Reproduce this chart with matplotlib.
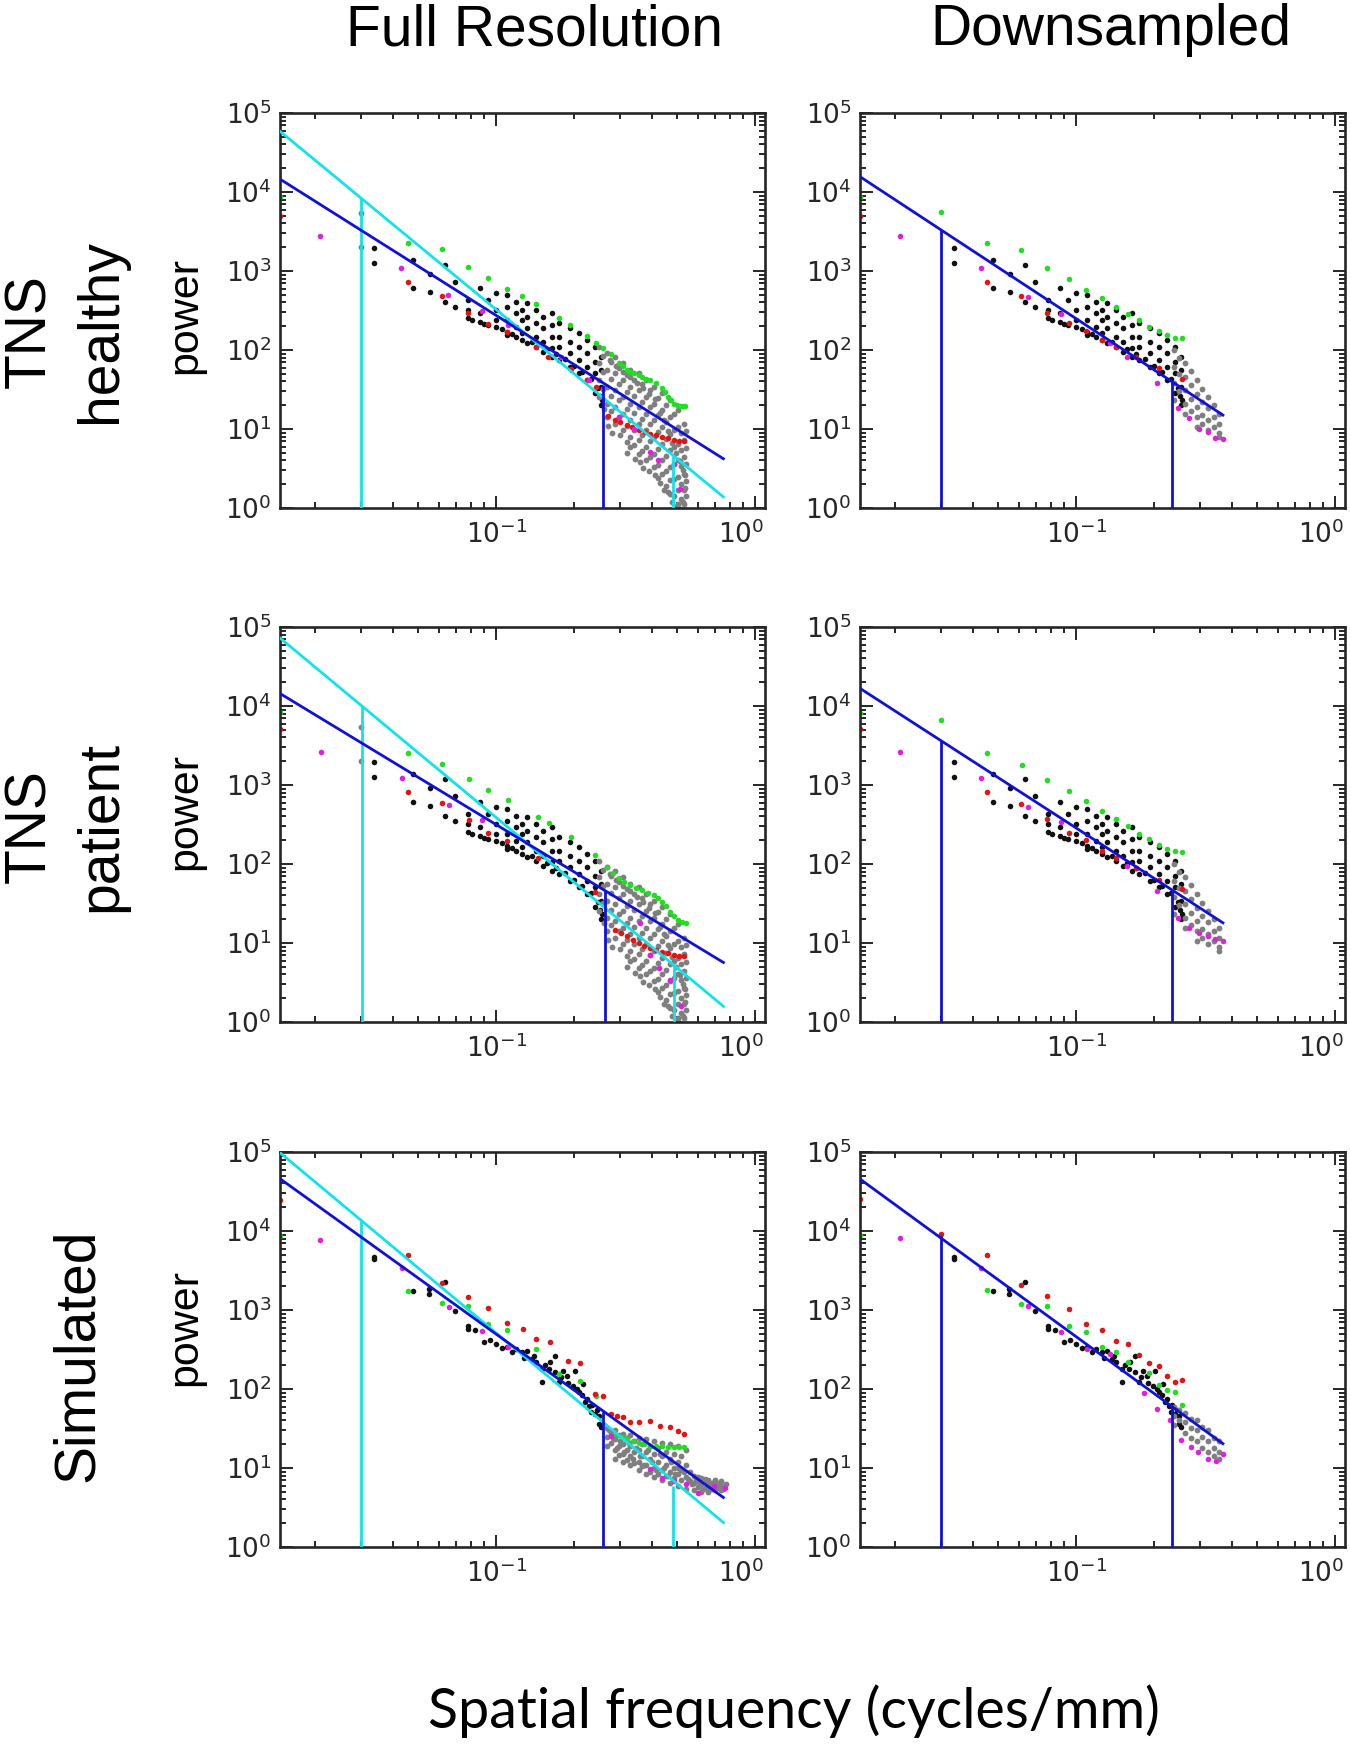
import numpy as np
import matplotlib
matplotlib.use('Agg')
import matplotlib.pyplot as plt
from matplotlib.ticker import LogLocator, FixedLocator, NullFormatter
from matplotlib.transforms import ScaledTranslation

# ---------------- data (frequency in cycles/mm, power) ----------------
# black points shared by TNS panels (low / mid frequencies)
tns_black = [(0.0336, 1941), (0.0336, 1277), (0.0478, 1380), (0.0478, 604),
             (0.0556, 910), (0.0556, 548), (0.0634, 1194), (0.0634, 409),
             (0.0692, 734), (0.0692, 354), (0.0777, 430), (0.0777, 321), (0.0777, 252),
             (0.0869, 604), (0.0869, 291), (0.0869, 228), (0.0932, 430), (0.0932, 207),
             (0.100, 522), (0.100, 321), (0.100, 240), (0.100, 197),
             (0.110, 498), (0.110, 354), (0.110, 240), (0.110, 171), (0.110, 155),
             (0.119, 409), (0.119, 291), (0.119, 197), (0.119, 147),
             (0.126, 321), (0.126, 240), (0.126, 163), (0.126, 134),
             (0.132, 390), (0.132, 264), (0.132, 188), (0.132, 121),
             (0.143, 321), (0.143, 217), (0.143, 147), (0.143, 110),
             (0.152, 264), (0.152, 188), (0.152, 127), (0.152, 95),
             (0.164, 291), (0.164, 207), (0.164, 147), (0.164, 105), (0.164, 82),
             (0.175, 217), (0.175, 147), (0.175, 110), (0.175, 74.5),
             (0.193, 188), (0.193, 127), (0.193, 90.6), (0.193, 61.4),
             (0.209, 163), (0.209, 110), (0.209, 74.5), (0.209, 50.5),
             (0.224, 134), (0.224, 90.6), (0.224, 61.4), (0.224, 41.6),
             (0.241, 110), (0.241, 71), (0.241, 50.5), (0.241, 28.2),
             (0.254, 82), (0.254, 55.7), (0.254, 34.2), (0.254, 20.0),
             (0.081, 240), (0.090, 215), (0.105, 185), (0.115, 160), (0.137, 128),
             (0.157, 104), (0.170, 90), (0.185, 76), (0.200, 63), (0.215, 52),
             (0.232, 43), (0.247, 33), (0.251, 26), (0.257, 23)]

tns_full_gray = [(0.0300, 5400), (0.0300, 2040),
                 (0.2495, 110), (0.2495, 67.6), (0.2495, 41.6), (0.2495, 25.5),
                 (0.267, 90.6), (0.267, 55.7), (0.267, 34.2), (0.267, 21.0), (0.267, 14.3),
                 (0.287, 82), (0.287, 50.5), (0.287, 31), (0.287, 19.1), (0.287, 11.7),
                 (0.308, 67.6), (0.308, 41.6), (0.308, 25.5), (0.308, 15.7), (0.308, 9.66),
                 (0.330, 55.7), (0.330, 34.2), (0.330, 21.0), (0.330, 12.9), (0.330, 7.95), (0.330, 5.93),
                 (0.355, 50.5), (0.355, 31), (0.355, 19.1), (0.355, 11.7), (0.355, 7.21), (0.355, 4.89),
                 (0.380, 41.6), (0.380, 25.5), (0.380, 15.7), (0.380, 9.66), (0.380, 5.93), (0.380, 4.02),
                 (0.408, 34.2), (0.408, 21.0), (0.408, 12.9), (0.408, 7.95), (0.408, 4.89), (0.408, 3.31),
                 (0.438, 28.2), (0.438, 17.3), (0.438, 10.6), (0.438, 6.54), (0.438, 4.02), (0.438, 2.72),
                 (0.470, 23.2), (0.470, 14.3), (0.470, 8.77), (0.470, 5.38), (0.470, 3.31), (0.470, 2.24), (0.470, 1.52),
                 (0.504, 17.3), (0.504, 10.6), (0.504, 6.54), (0.504, 4.02), (0.504, 2.47), (0.504, 1.67), (0.504, 1.13),
                 (0.531, 11.7), (0.531, 7.21), (0.531, 4.43), (0.531, 2.72), (0.531, 1.67), (0.531, 1.13), (0.531, 0.89),
                 (0.258, 85), (0.258, 52), (0.258, 32), (0.277, 70), (0.277, 43), (0.277, 26), (0.277, 17),
                 (0.297, 60), (0.297, 37), (0.297, 23), (0.297, 14),
                 (0.319, 48), (0.319, 29), (0.319, 18), (0.319, 11), (0.319, 6.8),
                 (0.342, 42), (0.342, 26), (0.342, 16), (0.342, 9.8), (0.342, 6.2),
                 (0.367, 37), (0.367, 22), (0.367, 13.5), (0.367, 8.3), (0.367, 5.2),
                 (0.394, 31), (0.394, 19), (0.394, 11.5), (0.394, 7.0), (0.394, 4.4),
                 (0.423, 25), (0.423, 15), (0.423, 9.2), (0.423, 5.6), (0.423, 3.5), (0.423, 2.4),
                 (0.453, 20), (0.453, 12.2), (0.453, 7.5), (0.453, 4.6), (0.453, 2.9), (0.453, 1.9),
                 (0.486, 15.5), (0.486, 9.6), (0.486, 5.9), (0.486, 3.6), (0.486, 2.3), (0.486, 1.4),
                 (0.518, 9), (0.518, 5.5), (0.518, 3.4), (0.518, 2.0), (0.518, 1.3),
                 (0.540, 9.5), (0.540, 5.8), (0.540, 3.6), (0.540, 2.2), (0.540, 1.4), (0.540, 0.95),
                 (0.260, 18), (0.270, 11), (0.280, 9), (0.300, 8.5), (0.320, 5.0), (0.345, 4.2),
                 (0.360, 3.8), (0.370, 3.2), (0.390, 2.9), (0.410, 2.6), (0.430, 2.1), (0.445, 1.7),
                 (0.460, 1.6), (0.480, 1.2), (0.500, 1.05), (0.515, 0.98), (0.525, 1.2), (0.535, 1.8),
                 (0.535, 2.6), (0.525, 3.0), (0.512, 3.9), (0.495, 5.0), (0.478, 6.6), (0.460, 9.5),
                 (0.445, 13), (0.430, 16), (0.410, 24), (0.390, 28), (0.370, 33), (0.350, 38),
                 (0.330, 45), (0.310, 52), (0.290, 62), (0.275, 75)]

tns_down_gray = [(0.239, 100), (0.239, 61), (0.239, 38), (0.239, 23),
                 (0.264, 68), (0.264, 46), (0.264, 31), (0.264, 21), (0.264, 15.7),
                 (0.292, 42), (0.292, 28), (0.292, 19), (0.292, 14.3), (0.292, 10.6),
                 (0.323, 25.5), (0.323, 18.2), (0.323, 12.9), (0.323, 9.7),
                 (0.356, 15.7), (0.356, 11.7), (0.356, 8.8), (0.356, 8.0),
                 (0.250, 80), (0.250, 50), (0.250, 30), (0.278, 55), (0.278, 36), (0.278, 24), (0.278, 17),
                 (0.307, 32), (0.307, 22), (0.307, 15), (0.307, 11.5), (0.340, 20), (0.340, 14), (0.340, 10.5)]

# TNS healthy, full resolution
hf_green = [(0.01462, 8600), (0.0458, 2290), (0.0618, 1890), (0.0777, 1140), (0.0932, 809),
            (0.110, 593), (0.1256, 483), (0.143, 382), (0.175, 256), (0.193, 207), (0.224, 150),
            (0.243, 124), (0.258, 107), (0.277, 88.7), (0.297, 69), (0.308, 62), (0.319, 55.7),
            (0.330, 52.5), (0.342, 50.5), (0.355, 48), (0.367, 45.8), (0.380, 43.5), (0.394, 41.6),
            (0.415, 37.7), (0.4375, 32.6), (0.449, 29), (0.461, 25.5), (0.473, 23), (0.486, 21),
            (0.500, 20), (0.513, 19.5), (0.525, 19.3), (0.537, 19.5)]
hf_red = [(0.01462, 4990), (0.0458, 720), (0.0618, 483), (0.0777, 291), (0.0932, 211), (0.110, 171),
          (0.143, 110), (0.158, 82), (0.195, 58), (0.224, 41.6), (0.243, 34), (0.270, 14.5),
          (0.287, 12.9), (0.300, 12.2), (0.319, 11.2), (0.335, 10.5), (0.355, 9.66), (0.375, 9.2),
          (0.394, 8.77), (0.415, 8.4), (0.4375, 7.95), (0.460, 7.6), (0.486, 7.2), (0.510, 7.1), (0.531, 7.08)]
hf_magenta = [(0.0209, 2790), (0.0430, 1084), (0.0652, 498), (0.0885, 312), (0.111, 207),
              (0.1787, 82.3), (0.2286, 41.6), (0.297, 14.3), (0.342, 10.1), (0.394, 5.13),
              (0.423, 4.02), (0.486, 3.65), (0.513, 1.76)]
hf_cyan_fit = [(0.01462, 58700), (0.755, 1.38)]
hf_blue_fit = [(0.01462, 14560), (0.755, 4.2)]
hf_cyan_cut = [(0.0300, 8360), (0.481, 4.52)]
hf_blue_cut = [(0.258, 35.9)]

# TNS healthy, downsampled
hd_green = [(0.01459, 8600), (0.030, 5660), (0.0452, 2250), (0.0611, 1850), (0.0773, 1084),
            (0.0935, 785), (0.1094, 575), (0.1255, 460), (0.142, 354), (0.159, 283), (0.1755, 240),
            (0.192, 197), (0.209, 175), (0.225, 155), (0.241, 143), (0.2575, 143)]
hd_red = [(0.01459, 4990), (0.0452, 720), (0.0611, 483), (0.0773, 291), (0.0935, 217), (0.1094, 175),
          (0.1255, 134), (0.142, 110), (0.171, 82), (0.209, 58.5), (0.2575, 42.4)]
hd_magenta = [(0.0209, 2790), (0.0429, 1084), (0.0652, 473), (0.0875, 286), (0.135, 121), (0.157, 82),
              (0.205, 37.8), (0.247, 18.2), (0.273, 13.6), (0.297, 10.1), (0.323, 9.2), (0.345, 7.8),
              (0.369, 7.43)]
hd_blue_fit = [(0.01459, 15700), (0.369, 15.0)]
hd_blue_cut = [(0.030, 3320), (0.235, 39.6)]

# TNS patient, full resolution
pf_green = [(0.01462, 8430), (0.0458, 2505), (0.0618, 1840), (0.0783, 1178), (0.0932, 863), (0.111, 645),
            (0.1445, 397), (0.1607, 327), (0.195, 222), (0.241, 130), (0.267, 92.7), (0.282, 78),
            (0.297, 66), (0.313, 59), (0.330, 54.4), (0.348, 50), (0.367, 47), (0.387, 43.5),
            (0.408, 40.6), (0.423, 37), (0.438, 33.5), (0.453, 29), (0.470, 25), (0.487, 22),
            (0.504, 19.6), (0.522, 18.5), (0.541, 17.8)]
pf_red = [(0.01462, 5050), (0.0458, 806), (0.0618, 585), (0.0783, 361), (0.0932, 250), (0.110, 198),
          (0.145, 120), (0.241, 44.8), (0.287, 14.7), (0.303, 13.3), (0.319, 12.1), (0.337, 11),
          (0.355, 9.96), (0.374, 9.2), (0.394, 8.6), (0.415, 8.2), (0.438, 7.8), (0.460, 7.4),
          (0.486, 7.1), (0.510, 6.9), (0.531, 6.76)]
pf_magenta = [(0.0211, 2580), (0.0433, 1210), (0.0656, 557), (0.0885, 361), (0.360, 17.8),
              (0.394, 7.1), (0.425, 4.81), (0.470, 3.43), (0.520, 1.58)]
pf_cyan_fit = [(0.01462, 72600), (0.755, 1.58)]
pf_blue_fit = [(0.01462, 14400), (0.755, 5.67)]
pf_cyan_cut = [(0.0302, 10230), (0.486, 5.05)]
pf_blue_cut = [(0.263, 47)]

# TNS patient, downsampled
pd_green = [(0.01459, 8180), (0.030, 6730), (0.0452, 2520), (0.0616, 1790), (0.0773, 1157),
            (0.0935, 830), (0.1094, 620), (0.1255, 471), (0.142, 370), (0.159, 299), (0.1755, 238),
            (0.192, 206), (0.209, 175), (0.225, 154), (0.241, 144), (0.2575, 140)]
pd_red = [(0.01459, 5130), (0.0452, 805), (0.0611, 573), (0.0773, 370), (0.0935, 250), (0.1094, 200),
          (0.1255, 147), (0.142, 120), (0.171, 90), (0.209, 63), (0.2575, 48.8)]
pd_magenta = [(0.0209, 2640), (0.0429, 1213), (0.0652, 520), (0.0875, 345), (0.157, 95), (0.205, 45),
              (0.247, 20.9), (0.273, 15.6), (0.297, 13.5), (0.323, 12.2), (0.345, 11.3), (0.369, 10.6)]
pd_blue_fit = [(0.01459, 16800), (0.369, 18.0)]
pd_blue_cut = [(0.030, 3650), (0.235, 45.5)]

# Simulated
sim_black = [(0.0336, 4750), (0.0336, 4450), (0.0478, 1730), (0.055, 1850), (0.055, 1600),
             (0.0634, 2250), (0.0692, 982), (0.0777, 622), (0.0777, 575), (0.083, 560), (0.090, 390),
             (0.095, 420), (0.100, 372), (0.105, 330), (0.110, 337), (0.115, 290), (0.119, 321),
             (0.1256, 291), (0.128, 250), (0.132, 305), (0.137, 239), (0.140, 260), (0.143, 217),
             (0.150, 179), (0.150, 121), (0.155, 200), (0.160, 180), (0.161, 217), (0.169, 162),
             (0.169, 264), (0.175, 121), (0.178, 140), (0.182, 170), (0.188, 147), (0.190, 120),
             (0.198, 110), (0.202, 168), (0.205, 100), (0.209, 90.4), (0.215, 85), (0.217, 115),
             (0.221, 67.5), (0.225, 75), (0.228, 61), (0.232, 50.5), (0.235, 62), (0.241, 48),
             (0.245, 55), (0.2495, 35.9), (0.250, 45), (0.254, 32.6)]
sim_full_gray = [(0.267, 32), (0.267, 25), (0.267, 19), (0.287, 30), (0.287, 23), (0.287, 17), (0.287, 13),
                 (0.308, 27), (0.308, 20), (0.308, 15), (0.308, 12), (0.330, 26), (0.330, 19), (0.330, 14), (0.330, 11),
                 (0.355, 24), (0.355, 17), (0.355, 12), (0.355, 9.5), (0.380, 23), (0.380, 16), (0.380, 11), (0.380, 8.5),
                 (0.408, 22), (0.408, 15), (0.408, 10), (0.408, 7.8), (0.438, 21), (0.438, 14), (0.438, 9.5), (0.438, 7),
                 (0.470, 20), (0.470, 13), (0.470, 9), (0.470, 6.5), (0.504, 19), (0.504, 12), (0.504, 8.5), (0.504, 6),
                 (0.541, 17), (0.541, 11), (0.541, 7.8), (0.541, 5.5), (0.58, 8), (0.58, 6.5), (0.58, 5.2),
                 (0.62, 7.5), (0.62, 6.2), (0.62, 5), (0.66, 7), (0.66, 6), (0.66, 5), (0.70, 7), (0.70, 6), (0.70, 5.2),
                 (0.74, 6.8), (0.74, 5.8), (0.74, 5.3), (0.277, 28), (0.277, 21), (0.297, 26), (0.297, 19), (0.297, 14.5),
                 (0.319, 24), (0.319, 17), (0.319, 12.5), (0.342, 22), (0.342, 16), (0.342, 11.5), (0.367, 20),
                 (0.367, 14), (0.367, 10.5), (0.394, 19), (0.394, 13), (0.394, 9), (0.423, 18), (0.423, 12), (0.423, 8.5),
                 (0.453, 16), (0.453, 11), (0.453, 8), (0.486, 15), (0.486, 10), (0.486, 7.5), (0.52, 14), (0.52, 9.5),
                 (0.52, 7), (0.56, 9), (0.56, 6.8), (0.60, 7.8), (0.60, 5.8), (0.64, 7.2), (0.64, 5.6), (0.68, 6.5),
                 (0.68, 5.5), (0.72, 6.3), (0.76, 6.0),
                 (0.272, 30), (0.282, 24), (0.292, 18), (0.302, 22), (0.313, 16), (0.325, 21), (0.337, 13),
                 (0.348, 18), (0.360, 14), (0.372, 11), (0.385, 17), (0.400, 12), (0.415, 9.5), (0.430, 15),
                 (0.445, 10), (0.460, 8), (0.475, 12), (0.490, 8.5), (0.505, 10), (0.530, 9), (0.550, 7.2),
                 (0.570, 6.2), (0.590, 7), (0.610, 6.6), (0.630, 5.4), (0.650, 6.4), (0.670, 5.8), (0.690, 6.2),
                 (0.710, 5.6), (0.730, 6.5), (0.750, 5.5), (0.770, 6.2)]
sim_down_gray = [(0.239, 60), (0.239, 45), (0.239, 35), (0.250, 55), (0.250, 40), (0.264, 50), (0.264, 38),
                 (0.264, 28), (0.278, 42), (0.278, 32), (0.278, 24), (0.292, 40), (0.292, 30), (0.292, 22),
                 (0.307, 33), (0.307, 25), (0.307, 18), (0.323, 30), (0.323, 22), (0.323, 16), (0.340, 24),
                 (0.340, 18), (0.340, 14), (0.356, 22), (0.356, 16), (0.356, 13)]

sf_green = [(0.01462, 8530), (0.0458, 1763), (0.0618, 1216), (0.0777, 1138), (0.0932, 666), (0.110, 559),
            (0.143, 321), (0.175, 155), (0.211, 127), (0.243, 82), (0.287, 26.9), (0.305, 25), (0.319, 23.2),
            (0.337, 22), (0.355, 21), (0.374, 20), (0.394, 19.1), (0.415, 19), (0.438, 19.1), (0.460, 18.5),
            (0.486, 18.2), (0.510, 18.2), (0.531, 18.2)]
sf_red = [(0.01462, 24400), (0.0458, 4990), (0.0618, 2180), (0.0777, 1480), (0.0932, 1052), (0.110, 686),
          (0.127, 575), (0.143, 430), (0.161, 390), (0.190, 228), (0.211, 211), (0.241, 86), (0.258, 82),
          (0.277, 48), (0.292, 45), (0.308, 43.6), (0.330, 37.7), (0.355, 37.7), (0.394, 39.6),
          (0.431, 34.2), (0.470, 32.6), (0.504, 29.6), (0.531, 26.9)]
sf_magenta = [(0.0209, 7730), (0.0433, 3410), (0.0656, 1104), (0.0885, 548), (0.111, 344), (0.277, 25.5),
              (0.394, 9.66), (0.438, 7.57), (0.486, 6.87), (0.541, 6.24), (0.601, 4.89), (0.692, 5.93),
              (0.767, 5.65)]
sf_cyan_fit = [(0.01462, 98000), (0.755, 2.04)]
sf_blue_fit = [(0.01462, 45900), (0.755, 4.23)]
sf_cyan_cut = [(0.030, 14300), (0.481, 5.93)]
sf_blue_cut = [(0.2597, 50.5)]

sd_green = [(0.01459, 8850), (0.0452, 1780), (0.0611, 1208), (0.0773, 1138), (0.0935, 633), (0.1094, 520),
            (0.1255, 345), (0.142, 298), (0.159, 222), (0.192, 158), (0.209, 112), (0.225, 96.9),
            (0.241, 92), (0.2575, 62.5)]
sd_red = [(0.01459, 25500), (0.030, 9120), (0.0452, 4980), (0.0611, 2100), (0.0773, 1495), (0.0935, 1032),
          (0.1094, 671), (0.1255, 552), (0.142, 400), (0.159, 370), (0.1755, 270), (0.192, 216),
          (0.209, 198), (0.225, 146), (0.241, 124), (0.2575, 130)]
sd_magenta = [(0.0209, 8040), (0.0429, 3440), (0.0652, 1117), (0.0875, 520), (0.110, 319), (0.135, 279),
              (0.183, 88), (0.205, 56.6), (0.231, 40.2), (0.2545, 22.4), (0.277, 18.4), (0.296, 15.9),
              (0.323, 13.1), (0.347, 12.4), (0.369, 15.1)]
sd_blue_fit = [(0.01459, 45700), (0.369, 20.3)]
sd_blue_cut = [(0.030, 8690), (0.235, 59.4)]

col_titles = ['Full Resolution', 'Downsampled']
row_titles = [['TNS', 'healthy'], ['TNS', 'patient'], ['Simulated']]
x_label = 'Spatial frequency (cycles/mm)'
y_label = 'power'

# ---------------- styling ----------------
ink = '#262626'
c_black = '#111111'
c_gray = '#7f7f7f'
c_green = '#22dd22'
c_red = '#e01515'
c_magenta = '#e020e0'
c_blue = '#1010dd'
c_cyan = '#12e2ea'

plt.rcParams['font.family'] = 'DejaVu Sans'
plt.rcParams['mathtext.fontset'] = 'dejavusans'

fig = plt.figure(figsize=(13.5, 17.45), dpi=100)
fig.patch.set_facecolor('white')

W, H = 1350.0, 1745.0
col_left = [280 / W, 860 / W]
ax_w = 485 / W
row_top = [113, 627, 1152]
ax_h = 395 / H


def plot_pts(ax, pts, color, ms):
    xs = [p[0] for p in pts]
    ys = [p[1] for p in pts]
    ax.plot(xs, ys, 'o', color=color, ms=ms, mew=0, ls='none', zorder=2)


def draw_panel(ax, black, gray, green, red, magenta, blue_fit, blue_cut, cyan_fit=None, cyan_cut=None):
    ax.set_xscale('log')
    ax.set_yscale('log')
    plot_pts(ax, black, c_black, 4.0)
    plot_pts(ax, gray, c_gray, 4.2)
    plot_pts(ax, green, c_green, 4.0)
    plot_pts(ax, red, c_red, 4.0)
    plot_pts(ax, magenta, c_magenta, 4.0)

    if cyan_fit is not None:
        ax.plot([p[0] for p in cyan_fit], [p[1] for p in cyan_fit], color=c_cyan, lw=2.0, zorder=3)
    ax.plot([p[0] for p in blue_fit], [p[1] for p in blue_fit], color=c_blue, lw=2.0, zorder=4)
    ax.set_ylim(1, 1e5)
    ax.set_xlim(0.01462, 1.093)
    if cyan_cut is not None:
        ax.vlines([p[0] for p in cyan_cut], 1, [p[1] for p in cyan_cut], color=c_cyan, lw=2.0, zorder=3)
    ax.vlines([p[0] for p in blue_cut], 1, [p[1] for p in blue_cut], color=c_blue, lw=2.0, zorder=4)

    for s in ax.spines.values():
        s.set_linewidth(1.9)
        s.set_color(ink)
    ax.xaxis.set_major_locator(FixedLocator([0.1, 1.0]))
    ax.yaxis.set_major_locator(LogLocator(base=10, numticks=10))
    ax.xaxis.set_minor_locator(LogLocator(base=10, subs=np.arange(2, 10), numticks=20))
    ax.yaxis.set_minor_locator(LogLocator(base=10, subs=np.arange(2, 10), numticks=20))
    ax.xaxis.set_minor_formatter(NullFormatter())
    ax.yaxis.set_minor_formatter(NullFormatter())
    ax.tick_params(which='both', direction='in', top=True, right=True, color=ink,
                   labelcolor=ink, labelsize=19, width=1.4)
    ax.tick_params(which='major', length=9)
    ax.tick_params(which='minor', length=4.5)
    ax.tick_params(axis='y', pad=6)
    ax.tick_params(axis='x', pad=9)
    # the 10^0 label sits a little left of its tick in the original
    t1 = ax.xaxis.get_major_ticks()[1]
    shift = ScaledTranslation(-0.14, 0, fig.dpi_scale_trans)
    t1.label1.set_transform(t1.label1.get_transform() + shift)


panels = [
    (0, 0, tns_black, tns_full_gray, hf_green, hf_red, hf_magenta, hf_blue_fit, hf_blue_cut, hf_cyan_fit, hf_cyan_cut),
    (0, 1, tns_black, tns_down_gray, hd_green, hd_red, hd_magenta, hd_blue_fit, hd_blue_cut, None, None),
    (1, 0, tns_black, tns_full_gray, pf_green, pf_red, pf_magenta, pf_blue_fit, pf_blue_cut, pf_cyan_fit, pf_cyan_cut),
    (1, 1, tns_black, tns_down_gray, pd_green, pd_red, pd_magenta, pd_blue_fit, pd_blue_cut, None, None),
    (2, 0, sim_black, sim_full_gray, sf_green, sf_red, sf_magenta, sf_blue_fit, sf_blue_cut, sf_cyan_fit, sf_cyan_cut),
    (2, 1, sim_black, sim_down_gray, sd_green, sd_red, sd_magenta, sd_blue_fit, sd_blue_cut, None, None),
]

for r, c, bk, gr, gn, rd, mg, bfit, bcut, cfit, ccut in panels:
    ax = fig.add_axes([col_left[c], 1 - (row_top[r] + 395) / H, ax_w, ax_h])
    draw_panel(ax, bk, gr, gn, rd, mg, bfit, bcut, cfit, ccut)

# column titles
title_font = dict(family='Liberation Sans', fontsize=41, color='black')
fig.text(534 / W, 1 - 45 / H, col_titles[0], ha='center', va='baseline', **title_font)
fig.text(1111 / W, 1 - 45 / H, col_titles[1], ha='center', va='baseline', **title_font)

# row titles (rotated)
row_centers = [331, 826, 1355]
for r, lines in enumerate(row_titles):
    yc = 1 - row_centers[r] / H
    if len(lines) == 2:
        xs = [45 / W, 116 / W]
    else:
        xs = [93 / W]
    for x, t in zip(xs, lines):
        fig.text(x, yc, t, rotation=90, rotation_mode='anchor', ha='center', va='baseline',
                 family='Liberation Sans', fontsize=41, color='black')

# power labels
power_centers = [316, 811, 1327]
for yc in power_centers:
    fig.text(196 / W, 1 - yc / H, y_label, rotation=90, rotation_mode='anchor', ha='center',
             va='baseline', family='Liberation Sans', fontsize=31, color='black')

fig.text(794 / W, 1 - 1728 / H, x_label, ha='center', va='baseline', family='Lato',
         fontsize=40, color='black')

fig.savefig('out.png', dpi=100, facecolor='white')
